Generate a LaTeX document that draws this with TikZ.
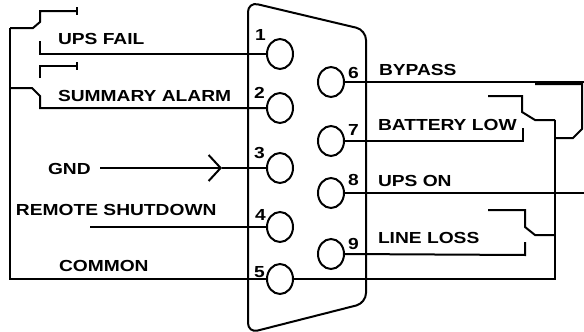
\documentclass[tikz,border=0pt]{standalone}
\usepackage{fontspec}
\setmainfont{Liberation Sans}[FakeStretch=1.2,BoldFeatures={FakeStretch=1.2}]
\usetikzlibrary{shapes.geometric,arrows.meta}
\begin{document}
\begin{tikzpicture}[x=1pt,y=-1pt,line width=2pt,
  pin/.style={ellipse,draw,minimum width=26pt,minimum height=30pt,inner sep=0pt},
  lbl/.style={anchor=base west,inner sep=0pt,font=\fontsize{16}{16}\selectfont\bfseries}]
\useasboundingbox (0,0) rectangle (584,332);
% connector shell
\draw[rounded corners=10pt] (248,2) -- (366,30) -- (366,303) -- (248,333) -- cycle;
% pins
\node[pin] (p1) at (280,54) {};
\node[pin] (p2) at (280,108) {};
\node[pin] (p3) at (280,168) {};
\node[pin] (p4) at (280,227) {};
\node[pin] (p5) at (280,279) {};
\node[pin] (p6) at (331,82) {};
\node[pin] (p7) at (331,141) {};
\node[pin] (p8) at (331,193) {};
\node[pin] (p9) at (331,254) {};
% pin numbers
\node[lbl] (n1) at (254,40) {1};
\node[lbl] (n2) at (253,98) {2};
\node[lbl] (n3) at (253,158) {3};
\node[lbl] (n4) at (254,220) {4};
\node[lbl] (n5) at (253,277) {5};
\node[lbl] (n6) at (347,78) {6};
\node[lbl] (n7) at (347,135) {7};
\node[lbl] (n8) at (347,185) {8};
\node[lbl] (n9) at (347,249) {9};
% labels
\node[lbl] (lupsfail) at (57,44) {UPS FAIL};
\node[lbl] (lsum) at (57,101) {SUMMARY ALARM};
\node[lbl] (lgnd) at (47,174) {GND};
\node[lbl] (lremote) at (15,215) {REMOTE SHUTDOWN};
\node[lbl] (lcommon) at (58,271) {COMMON};
\node[lbl] (lbypass) at (378,75) {BYPASS};
\node[lbl] (lbatt) at (377,130) {BATTERY LOW};
\node[lbl] (lupson) at (377,186) {UPS ON};
\node[lbl] (lline) at (377,243) {LINE LOSS};
% left bus
\coordinate (bt) at (10,28);
\coordinate (bb) at (10,279);
\coordinate (bj) at (10,88);
\draw (bt) -- (bb) -- (p5.west);
% UPS FAIL relay
\draw (bt) -- (33,28) -- (40,22) -- (40,11) -- (77,11);
\draw (77,7) -- (77,15);
\coordinate (c1) at (40,41);
\draw (c1) |- (p1.west);
% SUMMARY ALARM relay
\draw (40,78) -- (40,66) -- (77,66);
\draw (77,62) -- (77,70);
\draw (bj) -- (32,88) -- (40,96) |- (p2.west);
% GND
\coordinate (g0) at (100,168);
\coordinate (ga) at (222,168);
\draw[-{Straight Barb[length=12pt,width=26pt]}] (g0) -- (ga);
\draw (ga) -- (p3.west);
% REMOTE SHUTDOWN
\coordinate (r0) at (90,227);
\draw (r0) -- (p4.west);
% right bus
\coordinate (rt) at (555,120);
\coordinate (rb) at (555,279);
\draw (rt) -- (rb) -- (p5.east);
% BYPASS
\coordinate (e6) at (584,82);
\draw (p6.east) -- (e6);
\draw (555,138) -- (573,138) -- (582,129) -- (582,84) -- (535,84);
% BATTERY LOW
\draw (p7.east) -- (523,141) -- (523,128);
\draw (488,96) -- (522,96) -- (522,112) -- (535,120) -- (rt);
% UPS ON
\coordinate (e8) at (584,193);
\draw (p8.east) -- (e8);
% LINE LOSS
\draw (p9.east) -- (525,255) -- (525,242);
\draw (488,210) -- (525,210) -- (525,227) -- (535,235) -- (555,235);
\end{tikzpicture}
\end{document}
